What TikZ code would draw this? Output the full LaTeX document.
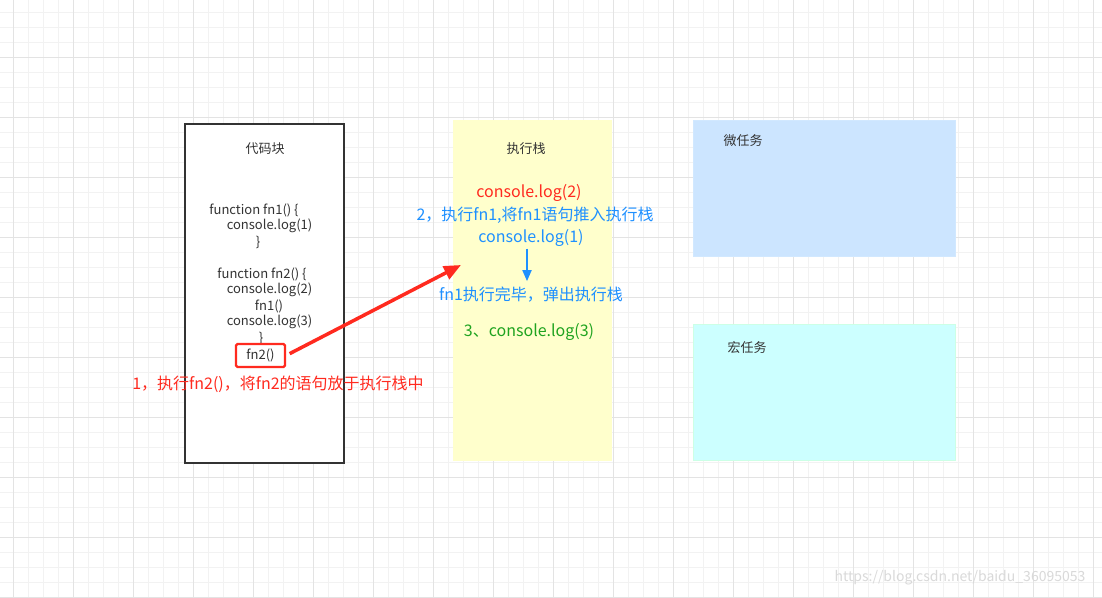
\documentclass[tikz,border=0pt]{standalone}
\usepackage{fontspec}
\setmainfont{Noto Sans CJK SC}
\usetikzlibrary{arrows.meta, positioning}
\definecolor{gminor}{HTML}{F2F2F2}
\definecolor{gmajor}{HTML}{E3E3E3}
\definecolor{codegray}{HTML}{333333}
\definecolor{kred}{HTML}{FF2A1F}
\definecolor{kblue}{HTML}{1E90FF}
\definecolor{kgreen}{HTML}{1FA31F}
\definecolor{stackyellow}{HTML}{FFFFCC}
\definecolor{microblue}{HTML}{CCE5FF}
\definecolor{macrocyan}{HTML}{CCFFFF}
\definecolor{macroedge}{HTML}{CCFFE6}

\tikzset{
  title/.style={font=\fontsize{13}{15}\selectfont, text=codegray},
  code/.style={font=\fontsize{13}{15}\selectfont, text=codegray, inner sep=0pt},
  note/.style={font=\fontsize{16}{18}\selectfont, inner sep=1pt},
  redarrow/.style={draw=kred, line width=3.5pt, -{Triangle[length=17pt,width=14pt]}},
  bluearrow/.style={draw=kblue, line width=1.8pt, -{Triangle[length=11pt,width=9pt]}}
}

\begin{document}
\begin{tikzpicture}[x=1pt, y=1pt]
  \useasboundingbox (0,0) rectangle (1102,597);
  \fill[white] (0,0) rectangle (1102,597);

  %% Grid
  \foreach \k in {0,...,73}{
    \draw[gminor, line width=0.8pt] ({13.3+15*\k},0) -- ({13.3+15*\k},597);
  }
  \foreach \k in {0,...,39}{
    \draw[gminor, line width=0.8pt] (0,{584.7-15*\k}) -- (1102,{584.7-15*\k});
  }
  \foreach \k in {0,...,18}{
    \draw[gmajor, line width=0.8pt] ({13.3+60*\k},0) -- ({13.3+60*\k},597);
  }
  \foreach \k in {-1,0,...,9}{
    \draw[gmajor, line width=0.8pt] (0,{539.7-60*\k}) -- (1102,{539.7-60*\k});
  }

  %% Code block
  \draw[fill=white, draw=codegray, line width=1.3pt] (185,134) rectangle (344,473);
  \node[title] (codetitle) at (265,448) {代码块};
  \foreach \x/\y/\txt in {
    254/387/{function fn1() \{},
    269.5/371/{console.log(1)},
    258/355/{\}},
    262/323/{function fn2() \{},
    269.5/307/{console.log(2)},
    269/291/{fn1()},
    269.5/275/{console.log(3)},
    261/259/{\}}
  }{
    \node[code] at (\x,\y) {\txt};
  }
  \node[code, draw=kred, line width=2.2pt, rounded corners=1.5pt,
        minimum width=49pt, minimum height=23pt] (fn2call) at (260.5,241.5) {fn2()};
  \node[note, text=kred] (step1) at (278,213) {1，执行fn2()，将fn2的语句放于执行栈中};

  %% Execution stack
  \fill[stackyellow] (453,136) rectangle (612,477);
  \node[title] (stacktitle) at (526,448) {执行栈};
  \node[note, text=kred] (log2) at (529,404) {console.log(2)};
  \node[note, text=kblue] (step2) at (535,382) {2，执行fn1,将fn1语句推入执行栈};
  \node[note, text=kblue] (log1) at (531,359) {console.log(1)};
  \node[note, text=kblue] (fn1done) at (531,302) {fn1执行完毕，弹出执行栈};
  \node[note, text=kgreen] (log3) at (529,265) {3、console.log(3)};
  \draw[bluearrow, shorten <=1pt, shorten >=5pt]
    ([xshift=-4pt]log1.south) -- ([xshift=-4pt]log1.south |- fn1done.north);

  %% Push arrow
  \coordinate (pushtip) at (461,332);
  \draw[redarrow, shorten <=4pt] (fn2call.east) -- (pushtip);

  %% Task queues
  \filldraw[fill=microblue, draw=microblue!90!white] (693,341) rectangle (955,477);
  \node[title, anchor=west] (microtitle) at (720,456) {微任务};
  \filldraw[fill=macrocyan, draw=macroedge, line width=0.8pt] (693,137) rectangle (955,273);
  \node[title, anchor=west] (macrotitle) at (724,249) {宏任务};

  %% Watermark
  \node[font=\fontsize{14}{16}\selectfont, text=gray!30] (mark) at (960,19)
    {https://blog.csdn.net/baidu\_36095053};

\end{tikzpicture}
\end{document}
